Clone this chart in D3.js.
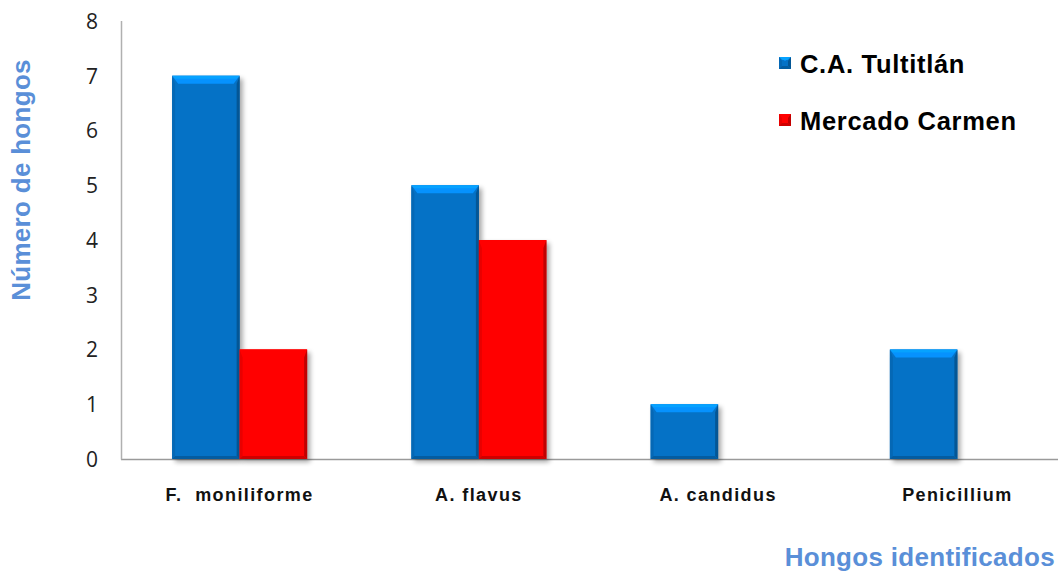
<!DOCTYPE html>
<html><head><meta charset="utf-8">
<script src="https://cdn.jsdelivr.net/npm/d3@7"></script>
<style>body{margin:0;background:#fff}svg{display:block}</style>
</head><body>
<svg id="c" width="1059" height="573"></svg>
<script>
const categories = ["F.  moniliforme", "A. flavus", "A. candidus", "Penicillium"];
const seriesNames = ["C.A. Tultitlán", "Mercado Carmen"];
const tultitlan = [7, 5, 1, 2];
const carmen = [2, 4, null, null];
const yTicks = [0, 1, 2, 3, 4, 5, 6, 7, 8];
const colors = ["#0572C6", "#FF0000"];

const svg = d3.select("#c");
const defs = svg.append("defs");
const f = defs.append("filter").attr("id", "sh").attr("x", "-20%").attr("y", "-20%").attr("width", "150%").attr("height", "150%");
f.append("feGaussianBlur").attr("stdDeviation", 2.5);

const y = d3.scaleLinear().domain([0, 8]).range([459, 21]);
const x0 = d3.scaleBand().domain(categories).range([120, 1077]);
const x1 = d3.scaleBand().domain(seriesNames).range([0, x0.bandwidth()]).paddingOuter(0.772);

// axes
svg.append("line").attr("x1", 121).attr("x2", 1058).attr("y1", y(0) + 0.5).attr("y2", y(0) + 0.5).attr("stroke", "#9a9a9a").attr("stroke-width", 1.5);
svg.append("line").attr("x1", 121.5).attr("x2", 121.5).attr("y1", y(8)).attr("y2", y(0) + 0.5).attr("stroke", "#b0b0b0").attr("stroke-width", 1.5);

const yAxis = d3.axisLeft(y).tickValues(yTicks).tickSize(0).tickPadding(0);
const ga = svg.append("g").attr("transform", "translate(98,0)").call(yAxis);
ga.select(".domain").remove();
ga.selectAll("text").attr("font-family", "'Open Sans', sans-serif").attr("font-size", 21).attr("fill", "#222").attr("dy", "0.35em");

function bevelBar(g, x, yt, w, h, color, shadow) {
  const c = d3.color(color);
  if (shadow) {
    g.append("rect").attr("x", x + 3).attr("y", yt + 3).attr("width", w).attr("height", h).attr("fill", "#000").attr("opacity", 0.35).attr("filter", "url(#sh)");
  }
  const b = Math.min(8, h / 3), s = Math.min(3, w / 4);
  g.append("rect").attr("x", x).attr("y", yt).attr("width", w).attr("height", h).attr("fill", c.formatHex());
  // top bevel (light)
  g.append("path").attr("d", `M${x},${yt}L${x + w},${yt}L${x + w - s - 3},${yt + b}L${x + s + 3},${yt + b}Z`).attr("fill", c.brighter(0.7).formatHex());
  g.append("path").attr("d", `M${x},${yt}L${x + w},${yt}L${x + w - s},${yt + 3}L${x + s},${yt + 3}Z`).attr("fill", c.brighter(1.1).formatHex()).attr("opacity", 0.7);
  // left
  g.append("path").attr("d", `M${x},${yt}L${x + s},${yt + b}L${x + s},${yt + h - s}L${x},${yt + h}Z`).attr("fill", c.darker(0.25).formatHex());
  // right
  g.append("path").attr("d", `M${x + w},${yt}L${x + w - s},${yt + b}L${x + w - s},${yt + h - s}L${x + w},${yt + h}Z`).attr("fill", c.darker(0.8).formatHex());
  // bottom
  g.append("path").attr("d", `M${x},${yt + h}L${x + s},${yt + h - s}L${x + w - s},${yt + h - s}L${x + w},${yt + h}Z`).attr("fill", c.darker(0.6).formatHex());
}

const data = categories.map((cat, i) => ({ cat, vals: [tultitlan[i], carmen[i]] }));
const bars = svg.append("g");
data.forEach(d => {
  d.vals.forEach((v, j) => {
    if (v == null) return;
    const xx = x0(d.cat) + x1(seriesNames[j]);
    bevelBar(bars, xx, y(v), x1.bandwidth(), y(0) - y(v), colors[j], true);
  });
});

// category labels
const gx = svg.append("g");
gx.selectAll("text").data(categories).join("text")
  .attr("x", d => x0(d) + x0.bandwidth() / 2).attr("y", 501)
  .attr("text-anchor", "middle").attr("xml:space", "preserve").style("white-space", "pre")
  .attr("font-family", "'Liberation Sans', Arial, sans-serif").attr("font-weight", "bold").attr("font-size", 18)
  .attr("letter-spacing", 1.4).attr("fill", "#111").text(d => d);

// axis titles
svg.append("text").attr("transform", "translate(30,180) rotate(-90)").attr("text-anchor", "middle")
  .attr("font-family", "'Liberation Sans', Arial, sans-serif").attr("font-weight", "bold").attr("font-size", 26)
  .attr("letter-spacing", 0.3).attr("fill", "#5A8FD8").text("Número de hongos");
svg.append("text").attr("x", 1055).attr("y", 566).attr("text-anchor", "end")
  .attr("font-family", "'Liberation Sans', Arial, sans-serif").attr("font-weight", "bold").attr("font-size", 26)
  .attr("letter-spacing", 0.3).attr("fill", "#5A8FD8").text("Hongos identificados");

// legend
const lg = svg.append("g");
seriesNames.forEach((n, i) => {
  const yy = 57 + i * 57;
  bevelBar(lg, 779, yy, 12, 12, colors[i], false);
  lg.append("text").attr("x", 800).attr("y", yy + 16).attr("font-family", "'Liberation Sans', Arial, sans-serif")
    .attr("font-weight", "bold").attr("font-size", 25.5).attr("letter-spacing", 0.7).attr("fill", "#000").text(n);
});
</script>
</body></html>
